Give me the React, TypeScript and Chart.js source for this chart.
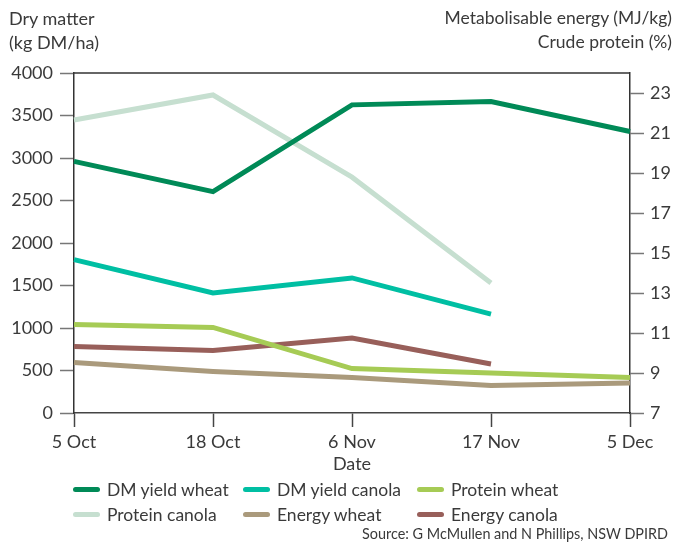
import React, { useEffect, useRef } from "react";
import { Chart, registerables } from "chart.js";

Chart.register(...registerables);

const categories = ["5 Oct", "18 Oct", "6 Nov", "17 Nov", "5 Dec"];
const dmYieldWheat = [2960, 2605, 3625, 3664, 3311];
const dmYieldCanola = [1804, 1412, 1589, 1163, null];
const proteinWheat = [11.42, 11.28, 9.22, 9.0, 8.78];
const proteinCanola = [21.65, 22.9, 18.79, 13.5, null];
const energyWheat = [9.53, 9.08, 8.78, 8.37, 8.5];
const energyCanola = [10.33, 10.12, 10.75, 9.45, null];
const rightTicks = [7, 9, 11, 13, 15, 17, 19, 21, 23];

const FONT = "Lato, 'Open Sans', sans-serif";
const TEXT = "#3a3a3a";

const series = [
  { label: "DM yield wheat", data: dmYieldWheat, color: "#008a57", axis: "y" },
  { label: "DM yield canola", data: dmYieldCanola, color: "#00bfa3", axis: "y" },
  { label: "Protein wheat", data: proteinWheat, color: "#a6cb55", axis: "y1" },
  { label: "Protein canola", data: proteinCanola, color: "#c6dfd0", axis: "y1" },
  { label: "Energy wheat", data: energyWheat, color: "#aa9a7c", axis: "y1" },
  { label: "Energy canola", data: energyCanola, color: "#985f5a", axis: "y1" },
];

const topBorder = {
  id: "topBorder",
  afterDatasetsDraw(chart: any) {
    const { ctx, chartArea } = chart;
    ctx.save();
    ctx.strokeStyle = "#333";
    ctx.lineWidth = 1.5;
    ctx.beginPath();
    ctx.moveTo(chartArea.left, chartArea.top);
    ctx.lineTo(chartArea.right, chartArea.top);
    ctx.stroke();
    ctx.restore();
  },
};

export default function App() {
  const ref = useRef<HTMLCanvasElement | null>(null);

  useEffect(() => {
    document.body.style.margin = "0";
    const chart = new Chart(ref.current as HTMLCanvasElement, {
      type: "line",
      data: {
        labels: categories,
        datasets: series.map((s) => ({
          label: s.label,
          data: s.data as any,
          borderColor: s.color,
          backgroundColor: s.color,
          borderWidth: 5,
          pointRadius: 0,
          pointHoverRadius: 0,
          tension: 0,
          yAxisID: s.axis,
          spanGaps: false,
        })),
      },
      plugins: [topBorder],
      options: {
        animation: false,
        responsive: false,
        maintainAspectRatio: false,
        layout: { padding: { top: 73, bottom: 73, left: 0, right: 0 } },
        plugins: {
          legend: { display: false },
          tooltip: { enabled: false },
        },
        scales: {
          x: {
            type: "category",
            offset: false,
            grid: {
              drawOnChartArea: false,
              drawTicks: true,
              tickLength: 14,
              tickColor: "#444",
              tickWidth: 1.5,
            },
            border: { color: "#444", width: 1.5 },
            ticks: {
              color: TEXT,
              font: { family: FONT, size: 18 },
              padding: 4,
              maxRotation: 0,
              autoSkip: false,
            },
            title: {
              display: true,
              text: "Date",
              color: TEXT,
              font: { family: FONT, size: 18 },
              padding: { top: 3, bottom: 0 },
            },
            afterFit(scale: any) {
              scale.height = 62;
            },
          },
          y: {
            position: "left",
            min: 0,
            max: 4000,
            grid: {
              drawOnChartArea: false,
              tickLength: 14,
              tickColor: "#777",
              tickWidth: 1.5,
            },
            border: { color: "#333", width: 1.5 },
            ticks: {
              stepSize: 500,
              color: TEXT,
              font: { family: FONT, size: 18 },
              padding: 7,
              callback: (v: any) => String(v),
            },
            afterFit(scale: any) {
              scale.width = 74;
            },
          },
          y1: {
            position: "right",
            min: 7,
            max: 24,
            grid: {
              drawOnChartArea: false,
              tickLength: 14,
              tickColor: "#777",
              tickWidth: 1.5,
            },
            border: { color: "#333", width: 1.5 },
            ticks: {
              color: TEXT,
              font: { family: FONT, size: 18 },
              padding: 6,
            },
            afterBuildTicks(scale: any) {
              scale.ticks = rightTicks.map((v) => ({ value: v }));
            },
            afterFit(scale: any) {
              scale.width = 45;
            },
          },
        },
      },
    });
    return () => chart.destroy();
  }, []);

  const legendRows = [series.slice(0, 3), series.slice(3, 6)];
  const colX = [73, 243, 417];

  return (
    <div style={{ position: "relative", width: 675, height: 548, fontFamily: FONT, color: TEXT }}>
      <canvas ref={ref} width={675} height={548} style={{ display: "block" }} />
      <div style={{ position: "absolute", left: 9, top: 6, fontSize: 18, lineHeight: "24px" }}>
        Dry matter
        <br />
        (kg DM/ha)
      </div>
      <div style={{ position: "absolute", right: 3, top: 6, fontSize: 17.5, lineHeight: "24px", textAlign: "right" }}>
        Metabolisable energy (MJ/kg)
        <br />
        Crude protein (%)
      </div>
      {legendRows.map((row, ri) =>
        row.map((s, ci) => (
          <div
            key={s.label}
            style={{
              position: "absolute",
              left: colX[ci],
              top: 477 + ri * 25,
              height: 24,
              display: "flex",
              alignItems: "center",
              fontSize: 17.5,
              whiteSpace: "nowrap",
            }}
          >
            <span
              style={{
                display: "inline-block",
                width: 27,
                height: 5,
                borderRadius: 3,
                background: s.color,
                marginRight: 7,
              }}
            />
            {s.label}
          </div>
        ))
      )}
      <div style={{ position: "absolute", right: 7, top: 524, fontSize: 14.4, lineHeight: "20px" }}>
        Source: G McMullen and N Phillips, NSW DPIRD
      </div>
    </div>
  );
}
